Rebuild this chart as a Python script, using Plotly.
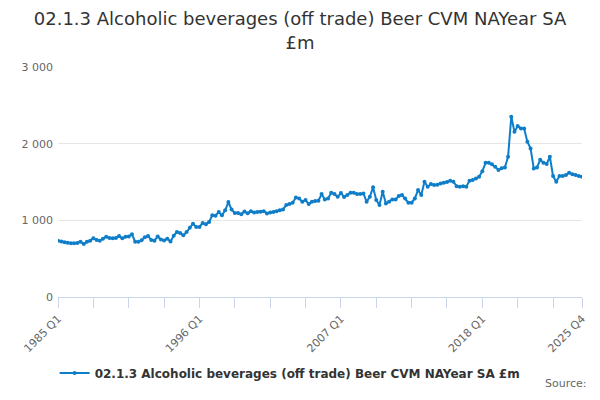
import plotly.graph_objects as go

# quarterly values, 1985 Q1 .. 2025 Q4 (£m)
quarters = [f'{y} Q{q}' for y in range(1985, 2026) for q in range(1, 5)]

values = [
    735, 725, 715, 708,     # 1985
    702, 700, 705, 722,     # 1986
    692, 720, 734, 765,     # 1987
    745, 735, 760, 786,     # 1988
    770, 765, 770, 795,     # 1989
    765, 786, 790, 817,     # 1990
    721, 721, 740, 778,     # 1991
    795, 745, 735, 790,     # 1992
    750, 738, 760, 725,     # 1993
    800, 848, 835, 804,     # 1994
    848, 904, 957, 913,     # 1995
    913, 965, 950, 978,     # 1996
    1065, 1060, 1109, 1065,  # 1997
    1130, 1239, 1140, 1096,  # 1998
    1096, 1078, 1115, 1092,  # 1999
    1120, 1103, 1108, 1112,  # 2000
    1120, 1090, 1103, 1110,  # 2001
    1120, 1133, 1142, 1199,  # 2002
    1212, 1229, 1299, 1286,  # 2003
    1242, 1264, 1212, 1242,  # 2004
    1251, 1255, 1342, 1273,  # 2005
    1286, 1360, 1342, 1307,  # 2006
    1355, 1305, 1330, 1360,  # 2007
    1360, 1343, 1345, 1351,  # 2008
    1243, 1308, 1430, 1264,  # 2009
    1199, 1373, 1221, 1243,  # 2010
    1273, 1273, 1317, 1330,  # 2011
    1286, 1230, 1230, 1286,  # 2012
    1395, 1330, 1504, 1438,  # 2013
    1473, 1460, 1465, 1481,  # 2014
    1490, 1500, 1516, 1503,  # 2015
    1446, 1438, 1446, 1438,  # 2016
    1516, 1525, 1546, 1568,  # 2017
    1640, 1752, 1750, 1730,  # 2018
    1700, 1656, 1680, 1690,  # 2019
    1829, 2351, 2155, 2229,  # 2020
    2199, 2199, 2025, 1938,  # 2021
    1677, 1690, 1790, 1752,  # 2022
    1735, 1829, 1577, 1503,  # 2023
    1577, 1577, 1590, 1620,  # 2024
    1600, 1590, 1577, 1568,  # 2025
]

series_name = '02.1.3 Alcoholic beverages (off trade) Beer CVM NAYear SA £m'
labelled = ['1985 Q1', '1996 Q1', '2007 Q1', '2018 Q1', '2025 Q4']

tick_vals = quarters[::11] + [quarters[-1]]
tick_text = [q if q in labelled else '' for q in tick_vals]

fig = go.Figure()

fig.add_trace(go.Scatter(x=quarters, y=values,
                    mode='lines+markers',
                    name=series_name,
                    line=dict(color='#0f7ec8', width=2),
                    marker=dict(color='#0f7ec8', size=4)))

# page body has an 8px margin, so the figure is a bit smaller than the window
fig.update_layout(
    width=584,
    height=384,
    margin=dict(l=50, r=10, t=59, b=95),
    font=dict(family='DejaVu Sans', color='#333333'),
    separators='. ',
    title=dict(
        text='02.1.3 Alcoholic beverages (off trade) Beer CVM NAYear SA<br>£m',
        x=0.5,
        xanchor='center',
        y=0.96,
        yanchor='top',
        pad=dict(t=2),
        font=dict(size=18, color='#333333'),
    ),
    xaxis=dict(
        type='category',
        range=[0, len(quarters) - 1],
        automargin=False,
        showgrid=False,
        showline=True,
        linecolor='#ccd6eb',
        linewidth=1,
        ticks='outside',
        ticklen=10,
        tickcolor='#ccd6eb',
        tickvals=tick_vals,
        ticktext=tick_text,
        tickangle=-45,
        tickfont=dict(size=11, color='#666666'),
        zeroline=False,
    ),
    yaxis=dict(
        range=[0, 3000],
        automargin=False,
        tickvals=[0, 1000, 2000, 3000],
        tickformat=',d',
        showgrid=True,
        gridcolor='#e6e6e6',
        zeroline=False,
        showline=False,
        tickfont=dict(size=11, color='#666666'),
        ticklabelstandoff=4,
    ),
    legend=dict(
        orientation='h',
        yref='container',
        yanchor='middle',
        y=0.0495,
        xanchor='center',
        x=0.443,
        font=dict(size=12, color='#333333', weight='bold'),
        itemwidth=30,
    ),
    showlegend=True,
    plot_bgcolor='white',
    paper_bgcolor='white',
)

fig.add_annotation(text='Source:', xref='paper', yref='paper',
                   x=1.013, y=-0.413, xanchor='right', yanchor='bottom',
                   showarrow=False, font=dict(size=11, color='#666666'))

fig.write_html('out.html')
